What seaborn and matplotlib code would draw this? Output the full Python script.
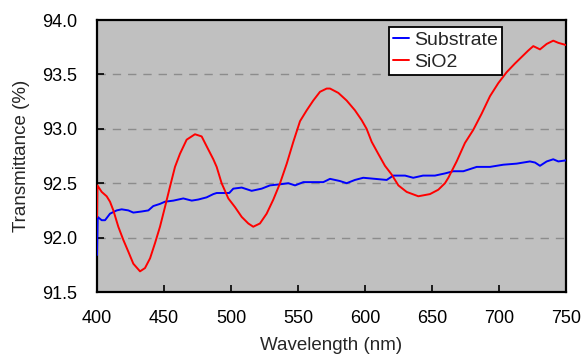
import matplotlib
matplotlib.use('Agg')
from matplotlib import pyplot as plt
import pandas as pd
import seaborn as sns

# Substrate transmittance
sub_wl = [400, 400.5, 403.5, 406, 409.7, 414.7, 418.4, 423.4, 427.1, 433.3,
          438.3, 442, 447, 450.7, 457, 464.4, 470.7, 475.6, 481.8, 486.8,
          489.3, 494.3, 498.7, 501.7, 508, 515.4, 522.9, 529.1, 536.6, 542.8,
          547.8, 554, 563.9, 568.9, 573.9, 581.3, 586.3, 592.5, 598.7, 607.5,
          616.2, 621.1, 629.9, 636, 643.3, 652.2, 659.7, 665.9, 673.4, 683.4,
          693.3, 703.2, 713.2, 723.1, 726.9, 730.6, 735.6, 740.5, 744.3, 750]
sub_t = [91.84, 92.19, 92.16, 92.16, 92.22, 92.25, 92.26, 92.25, 92.23, 92.24,
         92.25, 92.29, 92.31, 92.33, 92.34, 92.36, 92.34, 92.35, 92.37, 92.40,
         92.41, 92.41, 92.41, 92.45, 92.46, 92.43, 92.45, 92.48, 92.49, 92.50,
         92.48, 92.51, 92.51, 92.51, 92.54, 92.52, 92.50, 92.53, 92.55, 92.54,
         92.53, 92.57, 92.57, 92.55, 92.57, 92.57, 92.59, 92.61, 92.61, 92.65,
         92.65, 92.67, 92.68, 92.70, 92.69, 92.66, 92.70, 92.72, 92.70, 92.71]

# SiO2 coated transmittance
sio2_wl = [400, 400.3, 403.5, 407.2, 409.7, 412.2, 415.9, 419.6, 423.4, 427.1,
           432.1, 435.8, 439.6, 443.3, 447, 450.7, 454.5, 458.2, 461.9, 466.9,
           473.1, 478.1, 481.8, 486.8, 489.3, 493, 498, 503, 508, 512.9, 516.6,
           521.6, 526.6, 531.6, 536.6, 541.6, 546.5, 551.5, 556.5, 561.4,
           566.4, 571.4, 573.9, 580.1, 586.3, 592.5, 597.5, 601.2, 605, 609.9,
           614.9, 619.9, 624.9, 631.1, 639.8, 648.5, 654.7, 659.7, 662.2,
           668.4, 674.6, 680.8, 687.1, 693.3, 699.5, 705.7, 711.9, 716.9,
           721.9, 725.6, 730.6, 735.6, 740.5, 744.3, 750]
sio2_t = [92.19, 92.48, 92.42, 92.38, 92.33, 92.25, 92.10, 91.98, 91.87, 91.76,
          91.69, 91.72, 91.81, 91.95, 92.10, 92.28, 92.47, 92.65, 92.77, 92.90,
          92.95, 92.93, 92.84, 92.72, 92.65, 92.50, 92.36, 92.28, 92.19, 92.13,
          92.10, 92.13, 92.22, 92.35, 92.50, 92.68, 92.88, 93.07, 93.17, 93.26,
          93.34, 93.37, 93.37, 93.33, 93.26, 93.17, 93.08, 93.00, 92.88, 92.77,
          92.66, 92.58, 92.48, 92.42, 92.38, 92.40, 92.44, 92.50, 92.55,
          92.70, 92.87, 92.99, 93.14, 93.30, 93.42, 93.52, 93.60, 93.66,
          93.72, 93.76, 93.73, 93.78, 93.81, 93.79, 93.77]

df = pd.concat([
    pd.DataFrame({'wl': sub_wl, 't': sub_t, 'sample': 'Substrate'}),
    pd.DataFrame({'wl': sio2_wl, 't': sio2_t, 'sample': 'SiO2'}),
])

sns.set_style('ticks')
plt.rcParams['font.family'] = ['Liberation Sans', 'DejaVu Sans']

fig = plt.figure(figsize=(5.83, 3.54), dpi=100)
ax = fig.add_axes([0.1664, 0.1751, 0.8044, 0.7684])
ax.set_facecolor('#c0c0c0')

sns.lineplot(data=df, x='wl', y='t', hue='sample', estimator=None, sort=False,
             palette={'Substrate': '#0000ff', 'SiO2': '#ff0000'},
             linewidth=1.4, ax=ax, zorder=3)

ax.set_xlim(400, 750)
ax.set_ylim(91.5, 94.0)
ax.set_xticks(range(400, 751, 50))
ax.set_yticks([91.5, 92.0, 92.5, 93.0, 93.5, 94.0])
ax.set_yticklabels(['91.5', '92.0', '92.5', '93.0', '93.5', '94.0'])
for yv in [92.0, 92.5, 93.0, 93.5]:
    ax.axhline(yv, color='#8c8c8c', linestyle=(0, (6, 5)), linewidth=1, zorder=0)

ax.tick_params(direction='in', length=5, width=1.2, labelsize=13, colors='black')
ax.tick_params(axis='x', pad=13)
ax.tick_params(axis='y', pad=14)
for s in ax.spines.values():
    s.set_linewidth(1.6)
    s.set_color('black')

ax.set_xlabel('Wavelength (nm)', fontsize=13.5, labelpad=7)
ax.set_ylabel('Transmittance (%)', fontsize=13.5, labelpad=9)

leg = ax.legend(loc='upper left', bbox_to_anchor=(0.622, 0.974), fontsize=14,
                frameon=True, fancybox=False, handlelength=0.85, handletextpad=0.25,
                borderpad=0.2, labelspacing=0.25, borderaxespad=0)
leg.get_frame().set_edgecolor('black')
leg.get_frame().set_linewidth(1.3)
leg.get_frame().set_facecolor('white')
leg.get_frame().set_alpha(1)
leg.set_zorder(5)

plt.savefig('out.png', dpi=100)
